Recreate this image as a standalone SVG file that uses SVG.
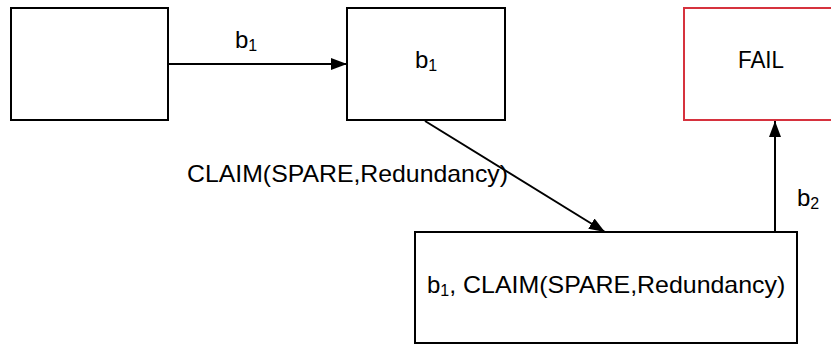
<svg xmlns="http://www.w3.org/2000/svg" width="831" height="345" viewBox="0 0 831 345">
  <style>
    .box { fill: #ffffff; stroke: #000000; stroke-width: 2; }
    .fail { fill: #ffffff; stroke: #d6323e; stroke-width: 2; }
    .edge { fill: none; stroke: #000000; stroke-width: 2; }
    text { font-family: "Liberation Sans", Arial, sans-serif; font-size: 24px; fill: #000000; }
    .sub { font-size: 16px; }
  </style>
  <defs>
    <marker id="arrow" viewBox="0 0 16 12" refX="16" refY="6" markerWidth="16" markerHeight="12" markerUnits="userSpaceOnUse" orient="auto">
      <path d="M0,0 L16,6 L0,12 Z" fill="#000000"/>
    </marker>
  </defs>
  <rect width="831" height="345" fill="#ffffff"/>

  <g id="connectors">
    <line class="edge" x1="168" y1="64" x2="347" y2="64" marker-end="url(#arrow)"/>
    <line class="edge" x1="425" y1="121" x2="605" y2="232" marker-end="url(#arrow)"/>
    <line class="edge" x1="775" y1="232" x2="775" y2="121" marker-end="url(#arrow)"/>
    <text x="235" y="48">b<tspan class="sub" dy="3">1</tspan></text>
    <text x="187" y="182" textLength="321" lengthAdjust="spacingAndGlyphs">CLAIM(SPARE,Redundancy)</text>
    <text x="797" y="206">b<tspan class="sub" dy="3">2</tspan></text>
  </g>

  <g id="start">
    <rect class="box" x="11" y="8" width="157" height="112"/>
  </g>

  <g id="state-b1">
    <rect class="box" x="347" y="8" width="158" height="112"/>
    <text x="415" y="68">b<tspan class="sub" dy="3">1</tspan></text>
  </g>

  <g id="fail">
    <rect class="fail" x="684" y="8" width="160" height="112"/>
    <text x="738" y="68" textLength="46" lengthAdjust="spacingAndGlyphs">FAIL</text>
  </g>

  <g id="state-b1-claim">
    <rect class="box" x="415" y="232" width="382" height="111"/>
    <text x="427" y="293">b<tspan class="sub" dy="3">1</tspan><tspan dy="-3" textLength="336" lengthAdjust="spacingAndGlyphs">, CLAIM(SPARE,Redundancy)</tspan></text>
  </g>
</svg>
